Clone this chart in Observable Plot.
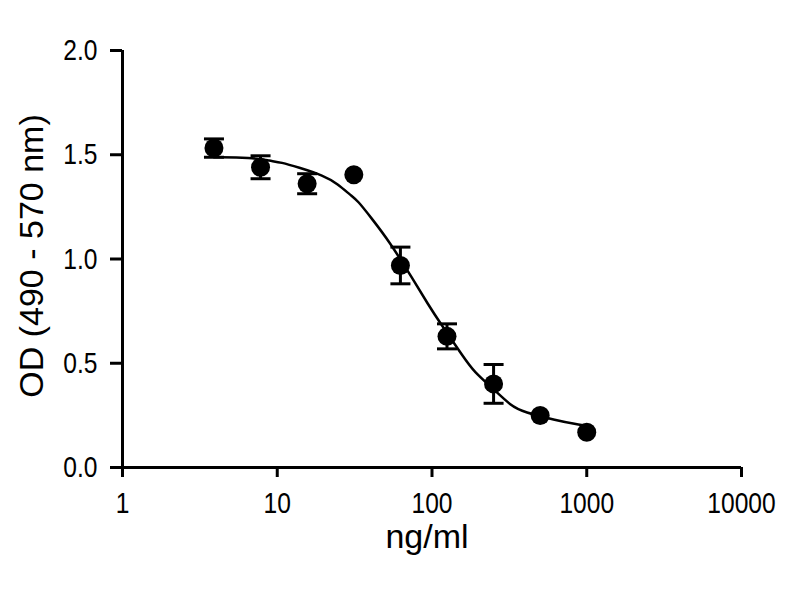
<!DOCTYPE html>
<html><head><meta charset="utf-8">
<script src="https://cdn.jsdelivr.net/npm/d3@7"></script>
<script src="https://cdn.jsdelivr.net/npm/@observablehq/plot@0.6"></script>
<style>body{margin:0;background:#fff}</style>
</head><body><div id="chart"></div>
<script>
// measured points (mean ± error)
const conc = [3.9, 7.8, 15.6, 31.25, 62.5, 125, 250, 500, 1000];
const od   = [1.532, 1.44, 1.361, 1.404, 0.969, 0.629, 0.401, 0.249, 0.169];
const err  = [0.044, 0.055, 0.048, 0, 0.088, 0.06, 0.093, 0, 0];
// fitted curve
const fitConc = [3.9, 6.75, 9.1, 10.55, 13.6, 20.0, 24.6, 29.9, 33.1, 40.2, 52.5, 76.2, 93.8, 113.8, 160, 186, 251, 322, 391, 648, 822, 1000];
const fitOD   = [1.488, 1.488, 1.47, 1.464, 1.44, 1.40, 1.36, 1.305, 1.28, 1.20, 1.089, 0.897, 0.785, 0.689, 0.529, 0.46, 0.375, 0.297, 0.265, 0.225, 0.21, 0.20];
// axes
const xTicks = [1, 10, 100, 1000, 10000];
const xTickLabels = ["1", "10", "100", "1000", "10000"];
const yTicks = [0, 0.5, 1, 1.5, 2];
const yTickLabels = ["0.0", "0.5", "1.0", "1.5", "2.0"];
const xTitle = "ng/ml";
const yTitle = "OD (490 - 570 nm)";

const points = conc.map((c, i) => ({conc: c, od: od[i], err: err[i]}));
const bars = points.filter(d => d.err > 0);
const fit = fitConc.map((c, i) => ({conc: c, od: fitOD[i]}));

const capSymbol = {draw(ctx) { ctx.moveTo(-10, 0); ctx.lineTo(10, 0); }};
const tickFont = "'Liberation Sans', Arial, sans-serif";
const titleFont = "'Liberation Sans', Arial, sans-serif";

const chart = Plot.plot({
  width: 800,
  height: 600,
  marginLeft: 122,
  marginRight: 59,
  marginTop: 50,
  marginBottom: 133,
  style: {background: "#fff", color: "#000"},
  x: {type: "log", domain: [1, 10000]},
  y: {domain: [0, 2]},
  marks: [
    Plot.axisX({ticks: xTicks, tickFormat: d => xTickLabels[xTicks.indexOf(d)], tickSize: 10, tickPadding: 14, fontSize: 30, fontFamily: tickFont, strokeWidth: 3, label: null}),
    Plot.axisY({ticks: yTicks, tickFormat: d => yTickLabels[yTicks.indexOf(d)], tickSize: 12, tickPadding: 13, fontSize: 30, fontFamily: tickFont, strokeWidth: 3, label: null}),
    Plot.ruleY([0], {stroke: "#000", strokeWidth: 3}),
    Plot.ruleX([1], {stroke: "#000", strokeWidth: 3}),
    Plot.line(fit, {x: "conc", y: "od", stroke: "#000", strokeWidth: 2.5, curve: "basis"}),
    Plot.ruleX(bars, {x: "conc", y1: d => d.od - d.err, y2: d => d.od + d.err, stroke: "#000", strokeWidth: 3}),
    Plot.dot(bars, {x: "conc", y: d => d.od + d.err, symbol: capSymbol, fill: "none", stroke: "#000", strokeWidth: 3}),
    Plot.dot(bars, {x: "conc", y: d => d.od - d.err, symbol: capSymbol, fill: "none", stroke: "#000", strokeWidth: 3}),
    Plot.dot(points, {x: "conc", y: "od", r: 9.5, fill: "#000", stroke: "none"}),
    Plot.text([xTitle], {frameAnchor: "bottom", dy: 70, dx: -5, fontSize: 34, fontFamily: titleFont, lineAnchor: "middle", fill: "#000"}),
    Plot.text([yTitle], {frameAnchor: "left", dx: -90, dy: -3, rotate: -90, fontSize: 34, fontFamily: titleFont, textAnchor: "middle", lineAnchor: "middle", fill: "#000"})
  ]
});
// narrow the tick labels horizontally, as in the reference
d3.select(chart).selectAll("g[aria-label='x-axis tick label'] text, g[aria-label='y-axis tick label'] text")
  .attr("transform", function() { return (this.getAttribute("transform") || "") + " scale(0.82,1)"; });
document.getElementById("chart").appendChild(chart);
</script>
</body></html>
